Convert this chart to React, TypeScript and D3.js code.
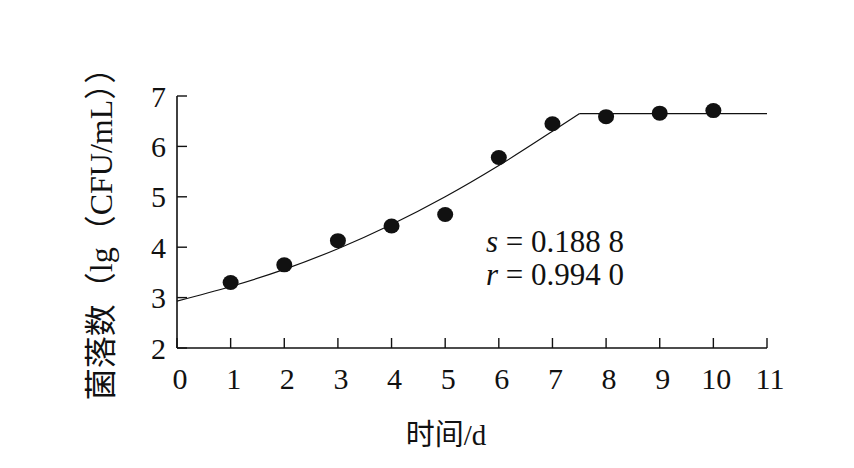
import * as d3 from 'd3';

// observed colony counts (lg CFU/mL)
const days = [1, 2, 3, 4, 5, 6, 7, 8, 9, 10];
const counts = [3.3, 3.65, 4.13, 4.42, 4.65, 5.78, 6.45, 6.59, 6.66, 6.71];

// fitted curve
const fitX = [0, 1, 2, 3, 4, 5, 6, 7, 7.5];
const fitY = [2.93, 3.22, 3.56, 3.97, 4.45, 5.0, 5.62, 6.3, 6.65];
const plateauX = [7.5, 11];
const plateauY = [6.65, 6.65];

const xTicks = [0, 1, 2, 3, 4, 5, 6, 7, 8, 9, 10, 11];
const yTicks = [2, 3, 4, 5, 6, 7];

const width = 854;
const height = 468;
const margin = { top: 96, right: 87, bottom: 120, left: 177 };
const serif = '"Liberation Serif", "Times New Roman", "Noto Sans CJK SC", serif';

export default function App() {
  const x = d3.scaleLinear().domain([0, 11]).range([margin.left, width - margin.right]);
  const y = d3.scaleLinear().domain([2, 7]).range([height - margin.bottom, margin.top]);

  const curve = d3
    .line<number>()
    .x((_, i) => x(fitX[i]))
    .y((d) => y(d))
    .curve(d3.curveMonotoneX);
  const flat = d3
    .line<number>()
    .x((_, i) => x(plateauX[i]))
    .y((d) => y(d));

  const tickLen = 10;
  const x0 = x(0);
  const yBase = y(2);

  return (
    <svg
      width={width}
      height={height}
      style={{ position: 'absolute', left: 0, top: 0, background: 'white' }}
      fontFamily={serif}
    >
      <path d={curve(fitY) || ''} fill="none" stroke="#111" strokeWidth={1.2} />
      <path d={flat(plateauY) || ''} fill="none" stroke="#111" strokeWidth={1.2} />

      {/* axes */}
      <line x1={x0} x2={x0} y1={y(7)} y2={yBase} stroke="#111" strokeWidth={1.6} />
      <line x1={x0} x2={x(11)} y1={yBase} y2={yBase} stroke="#111" strokeWidth={1.6} />

      {yTicks.map((t) => (
        <g key={'y' + t}>
          <line x1={x0} x2={x0 + tickLen} y1={y(t)} y2={y(t)} stroke="#111" strokeWidth={1.4} />
          <text x={x0 - 11} y={y(t)} dy="0.35em" textAnchor="end" fontSize={30} fill="#111">
            {t}
          </text>
        </g>
      ))}
      {xTicks.map((t) => (
        <g key={'x' + t}>
          <line x1={x(t)} x2={x(t)} y1={yBase} y2={yBase - tickLen} stroke="#111" strokeWidth={1.4} />
          <text x={x(t) + 3} y={yBase + 41} textAnchor="middle" fontSize={30} fill="#111">
            {t}
          </text>
        </g>
      ))}

      {days.map((d, i) => (
        <ellipse key={'p' + d} cx={x(d)} cy={y(counts[i])} rx={8} ry={7.5} fill="#111" />
      ))}

      <text x={486} y={252} fontSize={31} fill="#111">
        <tspan fontStyle="italic">s</tspan> = 0.188 8
      </text>
      <text x={486} y={285} fontSize={31} fill="#111">
        <tspan fontStyle="italic">r</tspan> = 0.994 0
      </text>

      <text x={446} y={445} textAnchor="middle" fontSize={29} fill="#111">
        时间/d
      </text>
      <text
        transform={`translate(112, 226) rotate(-90)`}
        textAnchor="middle"
        fontSize={32}
        fill="#111"
      >
        菌落数（lg（CFU/mL））
      </text>
    </svg>
  );
}
